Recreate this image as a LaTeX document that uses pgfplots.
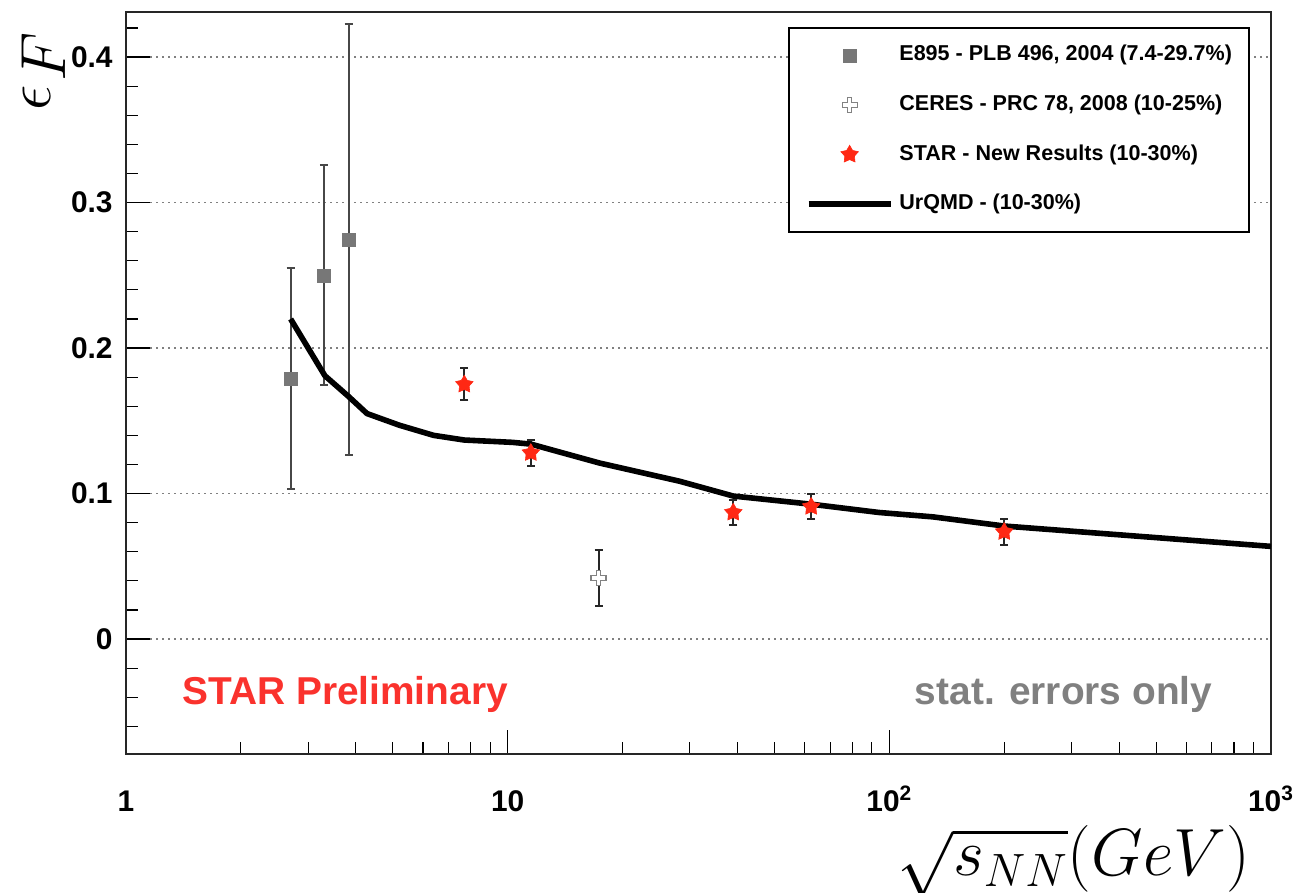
\RequirePackage{fix-cm}
\documentclass[border=0pt]{standalone}
\usepackage{fontspec}
\setmainfont{Liberation Sans}
\usepackage{pgfplots}
\pgfplotsset{compat=1.18}
\definecolor{e895}{RGB}{119,119,119}
\definecolor{ceresgray}{RGB}{130,130,130}
\definecolor{starred}{RGB}{255,40,20}
\definecolor{prelim}{RGB}{250,50,45}
\definecolor{statgray}{RGB}{128,128,128}

\pgfdeclareplotmark{ocross}{%
  \pgfpathmoveto{\pgfpoint{-0.3\pgfplotmarksize}{\pgfplotmarksize}}%
  \pgfpathlineto{\pgfpoint{0.3\pgfplotmarksize}{\pgfplotmarksize}}%
  \pgfpathlineto{\pgfpoint{0.3\pgfplotmarksize}{0.3\pgfplotmarksize}}%
  \pgfpathlineto{\pgfpoint{\pgfplotmarksize}{0.3\pgfplotmarksize}}%
  \pgfpathlineto{\pgfpoint{\pgfplotmarksize}{-0.3\pgfplotmarksize}}%
  \pgfpathlineto{\pgfpoint{0.3\pgfplotmarksize}{-0.3\pgfplotmarksize}}%
  \pgfpathlineto{\pgfpoint{0.3\pgfplotmarksize}{-\pgfplotmarksize}}%
  \pgfpathlineto{\pgfpoint{-0.3\pgfplotmarksize}{-\pgfplotmarksize}}%
  \pgfpathlineto{\pgfpoint{-0.3\pgfplotmarksize}{-0.3\pgfplotmarksize}}%
  \pgfpathlineto{\pgfpoint{-\pgfplotmarksize}{-0.3\pgfplotmarksize}}%
  \pgfpathlineto{\pgfpoint{-\pgfplotmarksize}{0.3\pgfplotmarksize}}%
  \pgfpathlineto{\pgfpoint{-0.3\pgfplotmarksize}{0.3\pgfplotmarksize}}%
  \pgfpathclose
  \pgfusepathqfillstroke}

\pgfdeclareplotmark{fstar}{%
  \pgfpathmoveto{\pgfpointpolar{90}{\pgfplotmarksize}}%
  \pgfpathlineto{\pgfpointpolar{126}{0.55\pgfplotmarksize}}%
  \pgfpathlineto{\pgfpointpolar{162}{\pgfplotmarksize}}%
  \pgfpathlineto{\pgfpointpolar{198}{0.55\pgfplotmarksize}}%
  \pgfpathlineto{\pgfpointpolar{234}{\pgfplotmarksize}}%
  \pgfpathlineto{\pgfpointpolar{270}{0.55\pgfplotmarksize}}%
  \pgfpathlineto{\pgfpointpolar{306}{\pgfplotmarksize}}%
  \pgfpathlineto{\pgfpointpolar{342}{0.55\pgfplotmarksize}}%
  \pgfpathlineto{\pgfpointpolar{18}{\pgfplotmarksize}}%
  \pgfpathlineto{\pgfpointpolar{54}{0.55\pgfplotmarksize}}%
  \pgfpathclose
  \pgfusepathqfillstroke}

\pgfplotstableread{
x y e
2.7 0.179 0.076
3.3 0.250 0.0755
3.83 0.2747 0.148
}\eeight

\pgfplotstableread{
x y e
17.3 0.042 0.0195
}\ceres

\pgfplotstableread{
x y e
7.7 0.175 0.011
11.5 0.128 0.009
39 0.087 0.0083
62.4 0.091 0.0088
200 0.0737 0.009
}\star

\pgfplotstableread{
x y
2.70 0.220
3.32 0.181
3.82 0.167
4.28 0.155
5.2 0.147
6.4 0.140
7.7 0.1368
10.3 0.1352
11.5 0.134
17.4 0.121
28.2 0.1085
39 0.0983
62.4 0.0927
94 0.087
130 0.0840
200 0.0777
1000 0.0637
}\urqmd

\begin{document}
\begin{tikzpicture}
\begin{axis}[
  scale only axis,
  width=572.5bp, height=371bp,
  xmode=log, xmin=1, xmax=1000,
  ymin=-0.079, ymax=0.431,
  xtick={1,10,100,1000},
  xticklabels={1,10,10\textsuperscript{2},10\textsuperscript{3}},
  ytick={0,0.1,0.2,0.3,0.4},
  yticklabels={0,0.1,0.2,0.3,0.4},
  minor ytick={-0.06,-0.04,-0.02,0.02,0.04,0.06,0.08,0.12,0.14,0.16,0.18,0.22,0.24,0.26,0.28,0.32,0.34,0.36,0.38,0.42},
  xtick pos=bottom, ytick pos=left,
  tick align=inside,
  major tick length=12bp, minor tick length=6bp,
  tick style={black, line width=0.6bp},
  ymajorgrids,
  major grid style={gray, line width=0.6bp, dash pattern=on 1.2bp off 1.8bp},
  axis line style={black!85, line width=1bp},
  /pgf/number format/assume math mode=true,
  xticklabel style={font=\bfseries\fontsize{15}{15}\selectfont, anchor=base, yshift=-28.5bp, inner sep=0pt},
  yticklabel style={font=\bfseries\fontsize{15}{15}\selectfont, anchor=east, xshift=-6.5bp, inner sep=0pt},
  xlabel={$\sqrt{s_{NN}}(GeV)$},
  xlabel style={at={(0.9817,-0.1644)}, anchor=base east, inner sep=0pt, font=\fontsize{33.5}{38}\selectfont},
  ylabel={$\epsilon\mkern1mu\raisebox{-7.5bp}{$F$}$},
  ylabel style={at={(-0.066,0.973)}, anchor=base east, inner sep=0pt, font=\fontsize{32}{36}\selectfont},
  legend style={at={(0.578,0.980)}, anchor=north west, draw=black, line width=1bp, fill=white,
    inner xsep=8.5bp, inner ysep=8.75bp, row sep=14.8bp,
    font=\bfseries\fontsize{10.8}{12}\selectfont,
    nodes={inner sep=0pt, text height=7.8bp, text depth=2.2bp}},
  legend cell align=left,
  legend image code/.code={\draw[mark repeat=2,mark phase=2,#1] plot coordinates {(-4bp,0bp) (16.5bp,0bp) (37bp,0bp)}; \path (40bp,0bp);},
]
\coordinate (SW) at (rel axis cs:0,0);
\coordinate (NE) at (rel axis cs:1,1);

\addplot[only marks, mark=square*, mark size=3.25bp, color=e895,
  mark options={fill=e895, draw=e895, line width=0.3bp},
  error bars/.cd, y dir=both, y explicit,
  error bar style={line width=1bp, color=black!72},
  error mark options={rotate=90, line width=1bp, mark size=2bp, color=black!72}]
  table[x=x, y=y, y error=e] {\eeight};
\addlegendentry{E895 - PLB 496, 2004 (7.4-29.7\%)}

\addplot[only marks, mark=ocross, mark size=3.75bp, color=ceresgray,
  mark options={fill=white, draw=ceresgray, line width=0.6bp},
  error bars/.cd, y dir=both, y explicit,
  error bar style={line width=1bp, color=black!85},
  error mark options={rotate=90, line width=1bp, mark size=2bp, color=black!85}]
  table[x=x, y=y, y error=e] {\ceres};
\addlegendentry{CERES - PRC 78, 2008 (10-25\%)}

\addplot[only marks, mark=fstar, mark size=4.6bp, color=starred,
  mark options={fill=starred, draw=starred, line width=0.3bp},
  error bars/.cd, y dir=both, y explicit,
  error bar style={line width=1bp, color=black!85},
  error mark options={rotate=90, line width=1bp, mark size=2bp, color=black!85}]
  table[x=x, y=y, y error=e] {\star};
\addlegendentry{STAR - New Results (10-30\%)}

\addplot[black, line width=2.8bp, line join=round, no marks] table[x=x, y=y] {\urqmd};
\addlegendentry{UrQMD - (10-30\%)}

\node[anchor=base west, inner sep=0pt, text=prelim, font=\bfseries\fontsize{19.5}{20}\selectfont] at (rel axis cs:0.049,0.0674) {STAR Preliminary};
\node[anchor=base east, inner sep=0pt, text=statgray, font=\bfseries\fontsize{19.5}{20}\selectfont] at (rel axis cs:0.949,0.0674) {stat. errors only};
\end{axis}
\pgfresetboundingbox
\path[use as bounding box] ([xshift=-63bp,yshift=-69bp]SW) rectangle ([xshift=12bp,yshift=6bp]NE);
\end{tikzpicture}
\end{document}
